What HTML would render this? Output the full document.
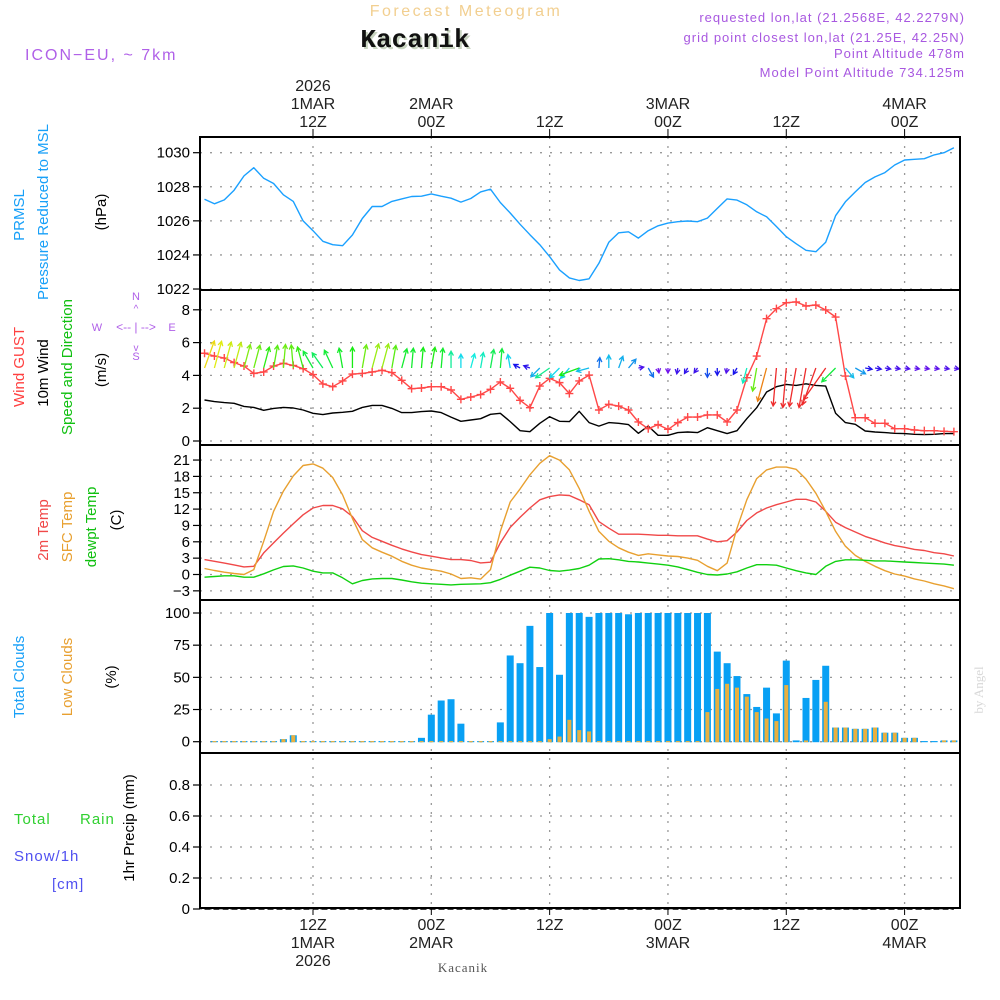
<!DOCTYPE html>
<html><head><meta charset="utf-8"><style>
html,body{margin:0;padding:0;background:#fff;}
svg{display:block;font-family:"Liberation Sans",sans-serif;}
</style></head><body>
<svg id="chart" width="1000" height="1000" viewBox="0 0 1000 1000" xmlns="http://www.w3.org/2000/svg">
<g>
<text x="466" y="16" text-anchor="middle" font-size="16" fill="#f2cf90" letter-spacing="2.5">Forecast Meteogram</text>
<text x="417" y="49" text-anchor="middle" font-size="26" font-weight="bold" font-family="Liberation Mono, monospace" fill="#c8d4c0">Kacanik</text>
<text x="415" y="47" text-anchor="middle" font-size="26" font-weight="bold" font-family="Liberation Mono, monospace" fill="#111">Kacanik</text>
<text x="25" y="60" font-size="16" fill="#b060e8" letter-spacing="2">ICON−EU, ~ 7km</text>
<text x="965" y="22" text-anchor="end" font-size="13" fill="#a858e0" letter-spacing="1">requested lon,lat (21.2568E, 42.2279N)</text>
<text x="965" y="42" text-anchor="end" font-size="13" fill="#a858e0" letter-spacing="1">grid point closest lon,lat (21.25E, 42.25N)</text>
<text x="965" y="58" text-anchor="end" font-size="13" fill="#a858e0" letter-spacing="1">Point Altitude 478m</text>
<text x="965" y="77" text-anchor="end" font-size="13" fill="#a858e0" letter-spacing="1">Model Point Altitude 734.125m</text>
</g>
<g font-size="15">
<text transform="translate(24,215) rotate(-90)" text-anchor="middle" fill="#18a0f8">PRMSL</text>
<text transform="translate(48,212) rotate(-90)" text-anchor="middle" fill="#18a0f8">Pressure Reduced to MSL</text>
<text transform="translate(106,212) rotate(-90)" text-anchor="middle" fill="#000">(hPa)</text>
<text transform="translate(24,367) rotate(-90)" text-anchor="middle" fill="#ff4040">Wind GUST</text>
<text transform="translate(48,373) rotate(-90)" text-anchor="middle" fill="#000">10m Wind</text>
<text transform="translate(72,367) rotate(-90)" text-anchor="middle" fill="#10c010">Speed and Direction</text>
<text transform="translate(106,370) rotate(-90)" text-anchor="middle" fill="#000">(m/s)</text>
<g fill="#b060e8" stroke="none" font-size="11">
<text x="97" y="331" text-anchor="middle">W</text><text x="172" y="331" text-anchor="middle">E</text>
<text x="136" y="300" text-anchor="middle">N</text><text x="136" y="360" text-anchor="middle">S</text>
<text x="136" y="331" text-anchor="middle" font-size="12">&lt;-- | --&gt;</text>
<text x="136" y="312" text-anchor="middle" font-size="10">^</text>
<text x="136" y="351" text-anchor="middle" font-size="10">v</text>
</g>
<text transform="translate(48,530) rotate(-90)" text-anchor="middle" fill="#f04848">2m Temp</text>
<text transform="translate(72,527) rotate(-90)" text-anchor="middle" fill="#e8a030">SFC Temp</text>
<text transform="translate(96,527) rotate(-90)" text-anchor="middle" fill="#10c010">dewpt Temp</text>
<text transform="translate(121,520) rotate(-90)" text-anchor="middle" fill="#000">(C)</text>
<text transform="translate(24,677) rotate(-90)" text-anchor="middle" fill="#18a0f8">Total Clouds</text>
<text transform="translate(72,677) rotate(-90)" text-anchor="middle" fill="#e8a030">Low Clouds</text>
<text transform="translate(116,677) rotate(-90)" text-anchor="middle" fill="#000">(%)</text>
<text x="14" y="824" fill="#30d030" letter-spacing="1">Total</text>
<text x="80" y="824" fill="#30d030" letter-spacing="1">Rain</text>
<text x="14" y="861" fill="#5050f0" letter-spacing="1">Snow/1h</text>
<text x="52" y="889" fill="#5050f0" letter-spacing="1">[cm]</text>
<text transform="translate(134,828) rotate(-90)" text-anchor="middle" fill="#000">1hr Precip (mm)</text>
</g>
<text transform="translate(983,690) rotate(-90)" text-anchor="middle" font-size="13" fill="#d8d8d8" font-family="Liberation Serif, serif">by Angel</text>
<text x="463" y="972" text-anchor="middle" font-size="13" fill="#555" font-family="Liberation Serif, serif" letter-spacing="1">Kacanik</text>
<g id="plot"></g>
</svg>
<script>
const hours = [];
for (let h = 1; h <= 77; h++) hours.push(h);
const pressure = [1027.27,1027.0,1027.23,1027.8,1028.64,1029.12,1028.5,1028.19,1027.53,1027.14,1026.0,1025.42,1024.8,1024.6,1024.54,1025.17,1026.14,1026.84,1026.84,1027.14,1027.29,1027.43,1027.45,1027.58,1027.45,1027.33,1027.1,1027.31,1027.7,1027.86,1027.08,1026.46,1025.8,1025.19,1024.6,1023.9,1023.12,1022.65,1022.5,1022.6,
1023.51,1024.74,1025.3,1025.36,1024.99,1025.42,1025.71,1025.87,1025.95,1025.99,1025.95,1026.16,1026.73,1027.29,1027.22,1026.94,1026.53,1026.24,1025.67,1025.07,1024.66,1024.27,1024.19,1024.74,1026.3,1027.12,1027.7,1028.25,1028.58,1028.83,1029.28,1029.57,1029.61,1029.65,1029.87,1030.0,1030.29];
const wind10 = [2.5,2.4,2.34,2.3,2.11,2.05,1.87,1.99,2.05,2.01,1.89,1.69,1.61,1.71,1.75,1.81,2.05,2.17,2.17,1.99,1.73,1.73,1.79,1.83,1.73,1.46,1.2,1.28,1.36,1.63,1.69,1.18,0.63,0.57,1.08,1.48,1.2,1.18,1.81,1.12,
0.91,1.12,1.08,1.0,0.47,0.91,0.35,0.35,0.51,0.55,0.51,0.81,0.63,0.45,0.63,1.36,2.03,2.99,3.31,3.45,3.39,3.49,3.39,3.35,1.69,1.12,1.02,0.61,0.55,0.51,0.47,0.45,0.41,0.39,0.41,0.45,0.45];
const gust = [5.35,5.18,5.06,4.78,4.57,4.12,4.21,4.57,4.74,4.61,4.41,4.05,3.48,3.31,3.66,4.08,4.12,4.21,4.31,4.17,3.7,3.19,3.23,3.31,3.31,3.11,2.54,2.68,2.83,3.15,3.6,3.21,2.48,2.03,3.35,3.82,3.56,2.89,3.66,4.02,
1.89,2.24,2.13,1.89,1.16,0.75,1.0,0.71,1.12,1.46,1.46,1.59,1.59,1.16,1.89,3.86,5.18,7.46,8.07,8.43,8.48,8.23,8.29,7.99,7.56,3.96,1.42,1.42,1.08,1.08,0.75,0.75,0.67,0.63,0.63,0.59,0.57];
const windDir = [20,15,15,15,15,15,15,10,5,-5,-15,-30,-35,-25,-10,0,10,15,15,10,15,5,5,10,5,0,0,15,10,10,5,-10,-60,-70,225,235,225,220,250,255,
5,0,20,40,80,150,170,180,190,210,215,180,180,190,210,195,190,195,185,185,190,190,200,215,225,140,120,100,100,100,100,100,100,100,100,100,100];
const temp2m = [2.74,2.43,2.1,1.76,1.4,1.5,3.96,5.8,7.6,9.3,10.95,12.2,12.66,12.66,12.05,10.65,8.03,6.8,6.1,5.36,4.7,4.14,3.65,3.35,3.04,2.74,2.74,2.56,2.13,2.25,5.8,8.64,10.5,12.2,13.7,14.3,14.6,14.5,
13.7,12.8,9.7,8.5,7.4,7.4,7.4,7.3,7.2,7.2,7.1,7.1,7.1,6.5,6.0,6.2,7.8,9.9,11.3,12.2,12.8,13.3,13.8,13.8,13.3,11.6,9.6,8.6,7.8,7.0,6.4,5.8,5.3,5.0,4.6,4.4,4.0,3.8,3.4];
const tempSfc = [1.1,0.73,0.43,0.18,0,0.9,6.1,11.6,15.3,18.1,20.0,20.3,19.5,17.8,14.6,10.3,6.4,4.9,4.1,3.35,2.43,1.7,1.2,0.9,0.6,0.1,-0.73,-0.6,-0.85,0.9,7.9,13.3,15.7,18.3,20.4,21.8,21.0,19.2,
15.8,11.6,7.9,6.1,4.9,4.1,3.5,3.8,3.6,3.4,3.3,3.0,2.6,1.5,0.7,2.1,8.5,13.7,17.6,19.2,19.7,19.7,19.3,17.5,14.9,11.6,7.9,5.2,3.5,2.4,1.5,0.7,0.1,-0.3,-0.8,-1.2,-1.7,-2.1,-2.6];
const dewpt = [-0.49,-0.37,-0.24,-0.24,-0.49,-0.49,0.12,0.85,1.46,1.58,1.2,0.6,0.3,0.3,-0.6,-1.7,-1.1,-0.8,-0.73,-0.73,-1.0,-1.34,-1.6,-1.7,-1.8,-1.9,-1.8,-1.77,-1.7,-1.5,-0.9,-0.12,0.6,1.34,1.2,0.73,0.6,0.8,
1.1,1.7,2.85,2.9,2.7,2.4,2.3,2.1,1.9,1.7,1.4,0.9,0.4,0.0,-0.1,0.1,0.5,1.2,1.8,1.8,1.7,1.2,0.7,0.3,0.0,1.5,2.4,2.7,2.7,2.6,2.5,2.5,2.4,2.3,2.2,2.1,2.0,1.9,1.7];
const cloudHours = [];
for (let h = 2; h <= 77; h++) cloudHours.push(h);
// hours 2..77
const totalCloud = [
0.5,0.5,0.5,0.5,0.5,0.5,0.5, 2,5,
0.5,0.5,0.5,0.5,0.5,0.5,0.5,0.5,0.5,0.5,0.5,0.5,
3,21,32,33,14,
0.5,0.5,0.5,
15,67,61,90,58,100,52,100,100,97,100,100,100,99,100,100,100,100,100,100,100,100,
70,61,51,37,27,42,22,63,1,34,48,59,11,11,10,10,11,7,7,3,3,0.5,0.5,1,1];
const lowCloud = [
0.5,0.5,0.5,0.5,0.5,0.5,0.5, 2,5,
0.5,0.5,0.5,0.5,0.5,0.5,0.5,0.5,0.5,0.5,0.5,0.5,
0.5,0.5,0.5,0.5,0.5,
0.5,0.5,0.5,
0.5,0.5,0.5,0.5,0.5,2,4,17,9,8,0.5,0.5,0.5,0.5,0.5,0.5,0.5,0.5,0.5,0.5,0.5,23,
41,45,42,35,23,18,16,44,0,1,0,31,11,11,10,10,11,7,7,3,3,0,0,1,1];
const precip = hours.map(() => 0);
const pTicks = [1022,1024,1026,1028,1030];
const wTicks = [0,2,4,6,8];
const tTicks = [-3,0,3,6,9,12,15,18,21];
const cTicks = [0,25,50,75,100];
const rTicks = [0,0.2,0.4,0.6,0.8];
const gridHours = [12,24,36,48,60,72];
const topLabels = [["12Z","1MAR","2026"],["00Z","2MAR",""],["12Z","",""],["00Z","3MAR",""],["12Z","",""],["00Z","4MAR",""]];

const NS = "http://www.w3.org/2000/svg";
const plot = document.getElementById('plot');
const X0 = 200, X1 = 960;
const xH = h => 313 + (h - 12) * 9.86;
const yP = p => 152.7 + (1030 - p) * 17.04;
const yW = v => 441 - v * 16.4;
const yT = t => 574.5 - t * 5.45;
const yC = c => 741.7 - c * 1.287;
const yR = r => 909 - r * 155;
const panels = [[137,290],[290,445],[445,600],[600,753],[753,908]];

function mk(tag, attrs, parent) {
  const e = document.createElementNS(NS, tag);
  for (const k in attrs) e.setAttribute(k, attrs[k]);
  (parent || plot).appendChild(e);
  return e;
}
const grid = mk('g', {});


gridHours.forEach(h => {
  const l = mk('line', {x1: xH(h), x2: xH(h), y1: 137, y2: 908, stroke: '#999', 'stroke-width': 1.3, 'stroke-dasharray': '2,7'}, grid);
  
  
});
function hgrid(ticks, yf, name) {
  ticks.forEach(t => {
    const y = yf(t);
    const l = mk('line', {x1: X0, x2: X1, y1: y, y2: y, stroke: '#999', 'stroke-width': 1.3, 'stroke-dasharray': '2,8'}, grid);
    
    
    const tk = mk('line', {x1: X0 - 7, x2: X0, y1: y, y2: y, stroke: '#000', 'stroke-width': 1.2});
    
    
    const tx = mk('text', {x: X0 - 10, y: y + 5, 'text-anchor': 'end', 'font-size': 15, fill: '#000'});
    tx.textContent = String(t).replace('-', '−');
    
    
  });
}
hgrid(pTicks, yP, 'pressure');
hgrid(wTicks, yW, 'wind');
hgrid(tTicks, yT, 'temp');
hgrid(cTicks, yC, 'cloud');
hgrid(rTicks, yR, 'precip');

gridHours.forEach((h, i) => {
  const x = xH(h);
  const lab = topLabels[i];
  const tk = mk('line', {x1: x, x2: x, y1: 129, y2: 137, stroke: '#000', 'stroke-width': 1});
  
  
  const tk2 = mk('line', {x1: x, x2: x, y1: 908, y2: 915, stroke: '#000', 'stroke-width': 1});
  
  
  [[lab[0], 127], [lab[1], 109], [lab[2], 91]].forEach(([s, y]) => {
    if (!s) return;
    const t = mk('text', {x: x, y: y, 'text-anchor': 'middle', 'font-size': 16, fill: '#222'});
    t.textContent = s;
    
    
  });
  [[lab[0], 930], [lab[1], 948], [lab[2], 966]].forEach(([s, y]) => {
    if (!s) return;
    const t = mk('text', {x: x, y: y, 'text-anchor': 'middle', 'font-size': 16, fill: '#222'});
    t.textContent = s;
    
    
  });
});

function line(vals, hs, yf, color, name, w) {
  const d = vals.map((v, i) => (i ? 'L' : 'M') + xH(hs[i]).toFixed(1) + ',' + yf(v).toFixed(1)).join('');
  const p = mk('path', {d: d, fill: 'none', stroke: color, 'stroke-width': w || 1.4, 'stroke-linejoin': 'round'});
  
  
  return p;
}
line(pressure, hours, yP, '#1aa0ff', 'pressure-line');
line(wind10, hours, yW, '#000', 'wind10-line');
line(gust, hours, yW, '#ff4848', 'gust-line');
gust.forEach((v, i) => {
  const x = xH(hours[i]), y = yW(v);
  const m = mk('path', {d: `M${x-4},${y}H${x+4}M${x},${y-4}V${y+4}`, stroke: '#ff4848', 'stroke-width': 1.4});
  
  
});
const stops = [[0.3,270],[0.7,235],[1.2,185],[1.8,120],[2.2,80],[2.5,55],[3.0,30],[3.3,0]];
function speedColor(s) {
  if (s <= stops[0][0]) return `hsl(${stops[0][1]},85%,50%)`;
  for (let i = 1; i < stops.length; i++) {
    if (s <= stops[i][0]) {
      const f = (s - stops[i-1][0]) / (stops[i][0] - stops[i-1][0]);
      return `hsl(${stops[i-1][1] + f * (stops[i][1] - stops[i-1][1])},85%,50%)`;
    }
  }
  return 'hsl(0,85%,55%)';
}
windDir.forEach((dg, i) => {
  const s = wind10[i];
  const L = Math.max(5, s * 11.5);
  const a = dg * Math.PI / 180;
  const x0 = xH(hours[i]), y0 = 368;
  const x1 = x0 + L * Math.sin(a), y1 = y0 - L * Math.cos(a);
  const hl = 5, ha = 0.5;
  const bx = -Math.sin(a), by = Math.cos(a);
  const hx1 = x1 + hl * (bx * Math.cos(ha) - by * Math.sin(ha)), hy1 = y1 + hl * (bx * Math.sin(ha) + by * Math.cos(ha));
  const hx2 = x1 + hl * (bx * Math.cos(-ha) - by * Math.sin(-ha)), hy2 = y1 + hl * (bx * Math.sin(-ha) + by * Math.cos(-ha));
  const p = mk('path', {d: `M${x0},${y0}L${x1},${y1}M${hx1},${hy1}L${x1},${y1}L${hx2},${hy2}`, fill: 'none', stroke: speedColor(s), 'stroke-width': 1.3});
  
  
});
line(temp2m, hours, yT, '#f04848', 'temp2m-line');
line(tempSfc, hours, yT, '#e8a030', 'sfc-temp-line');
line(dewpt, hours, yT, '#10d010', 'dewpt-line');
totalCloud.forEach((v, i) => {
  const x = xH(cloudHours[i]);
  const b = mk('rect', {x: x - 3.5, y: yC(v), width: 7, height: yC(0) - yC(v) + 0.5, fill: '#08a0f4'});
  
  
});
lowCloud.forEach((v, i) => {
  if (v <= 0) return;
  const x = xH(cloudHours[i]);
  const b = mk('rect', {x: x - 2, y: yC(v), width: 4, height: yC(0) - yC(v) + 0.5, fill: '#e8b040'});
  
  
});
const pr = line(precip, hours, yR, '#000', 'precip-line', 1.5);
pr.setAttribute('stroke-dasharray', '6,3');
panels.forEach((p, i) => {
  const r = mk('rect', {x: X0, y: p[0], width: X1 - X0, height: p[1] - p[0], fill: 'none', stroke: '#000', 'stroke-width': 2});
  
  
});
</script>
</body></html>
